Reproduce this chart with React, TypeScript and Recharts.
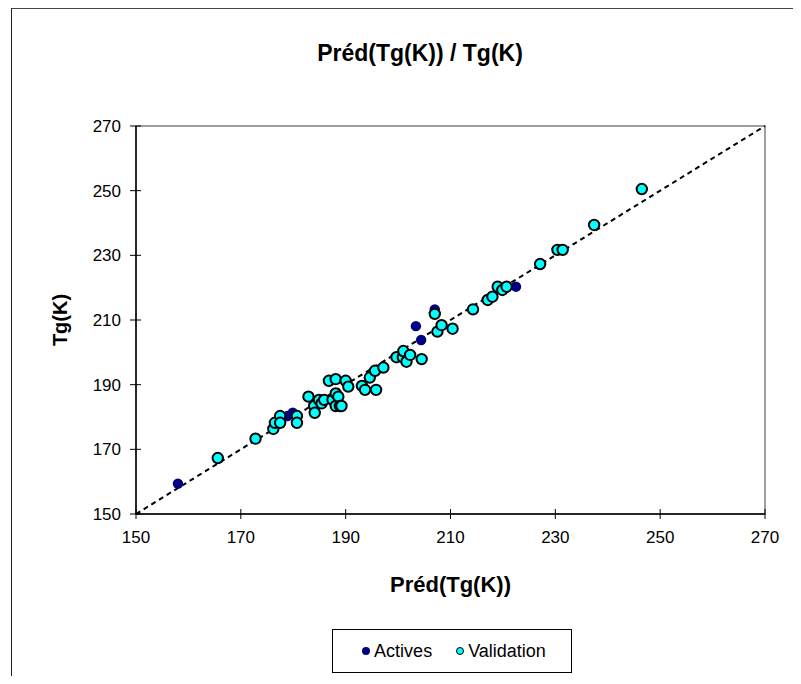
import { ScatterChart, Scatter, XAxis, YAxis, ReferenceLine, ReferenceArea } from 'recharts'

// Préd(Tg(K)) vs Tg(K)
const actives = [
  { x: 158.0, y: 159.4 },
  { x: 178.9, y: 180.3 },
  { x: 179.9, y: 181.3 },
  { x: 203.4, y: 208.1 },
  { x: 204.4, y: 203.8 },
  { x: 207.0, y: 213.3 },
  { x: 222.5, y: 220.3 },
]

const validation = [
  { x: 165.6, y: 167.3 }, { x: 172.8, y: 173.3 }, { x: 176.2, y: 176.3 }, { x: 176.5, y: 178.2 },
  { x: 177.5, y: 180.3 }, { x: 177.5, y: 178.2 }, { x: 180.7, y: 180.3 }, { x: 180.7, y: 178.2 },
  { x: 182.9, y: 186.3 }, { x: 184.0, y: 183.4 }, { x: 184.1, y: 181.3 }, { x: 184.9, y: 185.3 },
  { x: 185.4, y: 184.2 }, { x: 185.9, y: 185.3 }, { x: 186.8, y: 191.2 }, { x: 188.1, y: 191.7 },
  { x: 187.5, y: 185.3 }, { x: 188.1, y: 187.3 }, { x: 188.1, y: 183.4 }, { x: 190.0, y: 191.2 },
  { x: 190.5, y: 189.4 }, { x: 188.6, y: 186.3 }, { x: 188.9, y: 183.4 }, { x: 189.2, y: 183.4 },
  { x: 193.1, y: 189.6 }, { x: 193.7, y: 188.4 }, { x: 194.6, y: 192.2 }, { x: 195.8, y: 188.4 },
  { x: 195.6, y: 194.3 }, { x: 197.2, y: 195.3 }, { x: 199.7, y: 198.5 }, { x: 200.9, y: 198.5 },
  { x: 201.0, y: 200.4 }, { x: 201.6, y: 197.1 }, { x: 202.3, y: 199.2 }, { x: 204.5, y: 197.9 },
  { x: 207.0, y: 211.9 }, { x: 207.5, y: 206.4 }, { x: 208.3, y: 208.4 }, { x: 210.4, y: 207.3 },
  { x: 214.3, y: 213.3 }, { x: 217.1, y: 216.2 }, { x: 218.0, y: 217.2 }, { x: 219.0, y: 220.3 },
  { x: 219.9, y: 219.3 }, { x: 220.7, y: 220.3 }, { x: 227.1, y: 227.3 }, { x: 230.4, y: 231.7 },
  { x: 231.4, y: 231.7 }, { x: 237.4, y: 239.4 }, { x: 246.5, y: 250.5 },
]

const ticks = [150, 170, 190, 210, 230, 250, 270]
const diagonal = [{ x: 150, y: 150 }, { x: 270, y: 270 }]

const FONT = '"Liberation Sans", Arial, sans-serif'
const NAVY = '#000080'
const CYAN = '#00FFFF'

const XTick = ({ x, y, payload }: any) => (
  <g>
    <line x1={x} x2={x} y1={y - 5} y2={y + 5} stroke="#000" />
    <text x={x} y={y + 29} textAnchor="middle" fontSize={17} fontFamily={FONT} fill="#000">{payload.value}</text>
  </g>
)

const YTick = ({ x, y, payload }: any) => (
  <g>
    <line x1={x - 6} x2={x + 5} y1={y} y2={y} stroke="#000" />
    <text x={x - 15} y={y + 6} textAnchor="end" fontSize={17} fontFamily={FONT} fill="#000">{payload.value}</text>
  </g>
)

const XTitle = ({ viewBox }: any) => (
  <text x={viewBox.x + viewBox.width / 2} y={592} textAnchor="middle" fontSize={22} fontWeight="bold" fontFamily={FONT}>
    Préd(Tg(K))
  </text>
)

const YTitle = ({ viewBox }: any) => {
  const cy = viewBox.y + viewBox.height / 2
  return (
    <text x={67} y={cy} transform={`rotate(-90 67 ${cy})`} textAnchor="middle" fontSize={20} fontWeight="bold" fontFamily={FONT}>
      Tg(K)
    </text>
  )
}

const Dot = ({ cx, cy, fill, stroke }: any) => (
  <circle cx={cx} cy={cy} r={5.2} fill={fill} stroke={stroke} strokeWidth={stroke === 'none' ? 0 : 2} />
)

function LegendBox() {
  const item = (color: string, border: boolean, label: string) => (
    <div style={{ display: 'flex', alignItems: 'center', gap: 4 }}>
      <span style={{ width: 8, height: 8, borderRadius: '50%', background: color, border: border ? '1.5px solid #000' : 'none', boxSizing: 'border-box', display: 'inline-block' }} />
      <span>{label}</span>
    </div>
  )
  return (
    <div style={{
      position: 'absolute', left: 332, top: 629, width: 240, height: 44, boxSizing: 'border-box',
      border: '1px solid #000', display: 'flex', alignItems: 'center', justifyContent: 'center', gap: 24,
      fontFamily: FONT, fontSize: 18, paddingLeft: 4,
    }}>
      {item(NAVY, false, 'Actives')}
      {item(CYAN, true, 'Validation')}
    </div>
  )
}

export default function App() {
  return (
    <div style={{ position: 'relative', width: 801, height: 684, margin: -8, background: '#fff', overflow: 'hidden' }}>
      <div style={{ position: 'absolute', left: 11, top: 7, width: 820, height: 700, borderLeft: '1px solid #222', borderTop: '2px solid #444' }} />
      <div style={{ position: 'absolute', left: 0, width: 840, top: 40, textAlign: 'center', fontFamily: FONT, fontWeight: 'bold', fontSize: 23 }}>
        Préd(Tg(K)) / Tg(K)
      </div>
      <div style={{ position: 'absolute', left: 0, top: 0 }}>
        <ScatterChart width={801} height={684} margin={{ top: 126, right: 36, bottom: 90, left: 56 }}>
          <ReferenceArea x1={150} x2={270} y1={150} y2={270} fill="none" stroke="#808080" strokeWidth={1.5} ifOverflow="visible" />
          <XAxis
            type="number" dataKey="x" domain={[150, 270]} ticks={ticks} interval={0}
            height={80} tickSize={0} tickMargin={0} tick={<XTick />}
            axisLine={{ stroke: '#000', strokeWidth: 1.5 }} tickLine={false}
            label={<XTitle />}
          />
          <YAxis
            type="number" dataKey="y" domain={[150, 270]} ticks={ticks} interval={0}
            width={80} tickSize={0} tickMargin={0} tick={<YTick />}
            axisLine={{ stroke: '#000', strokeWidth: 1.5 }} tickLine={false}
            label={<YTitle />}
          />
          <ReferenceLine segment={diagonal} stroke="#000" strokeWidth={2} strokeDasharray="5 4" ifOverflow="visible" />
          <Scatter data={actives} fill={NAVY} isAnimationActive={false} shape={(p: any) => <Dot {...p} fill={NAVY} stroke="none" />} />
          <Scatter data={validation} fill={CYAN} isAnimationActive={false} shape={(p: any) => <Dot {...p} fill={CYAN} stroke="#000" />} />
        </ScatterChart>
      </div>
      <LegendBox />
    </div>
  )
}
